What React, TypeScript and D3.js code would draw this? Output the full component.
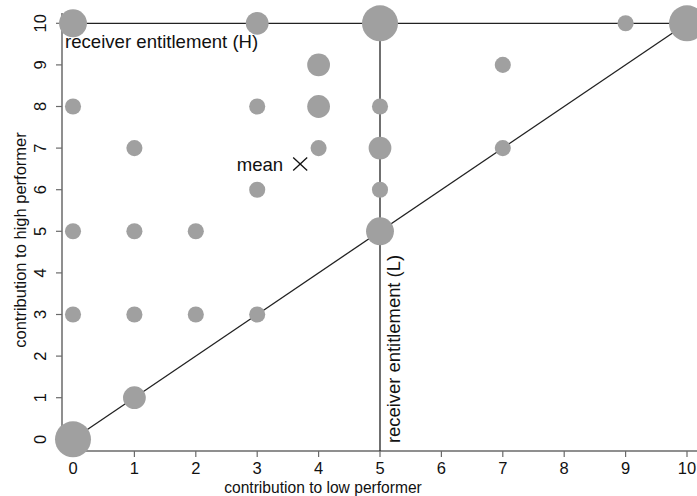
import React from 'react';
import * as d3 from 'd3';

// one entry per (low, high) contribution pair, count = number of observations
const lowContrib = [0, 3, 5, 9, 10, 4, 7, 0, 3, 4, 5, 1, 4, 5, 7, 3, 5, 0, 1, 2, 5, 0, 1, 2, 3, 1, 0];
const highContrib = [10, 10, 10, 10, 10, 9, 9, 8, 8, 8, 8, 7, 7, 7, 7, 6, 6, 5, 5, 5, 5, 3, 3, 3, 3, 1, 0];
const counts = [3, 2, 5, 1, 5, 2, 1, 1, 1, 2, 1, 1, 1, 2, 1, 1, 1, 1, 1, 1, 3, 1, 1, 1, 1, 2, 5];

const meanPoint = [3.7, 6.62];
const tickValues = [0, 1, 2, 3, 4, 5, 6, 7, 8, 9, 10];

const entitlementH = 10;
const entitlementL = 5;

const width = 697;
const height = 496;
const font = 'Liberation Sans, Arial, Helvetica, sans-serif';

export default function App() {
  const x = d3.scaleLinear().domain([0, 10]).range([73, 687]);
  const y = d3.scaleLinear().domain([0, 10]).range([439.3, 23.3]);
  const r = d3.scaleSqrt().domain([0, 5]).range([0, 18]);

  const axisLeft = 62;
  const axisBottom = 451;
  const axisColor = '#6a6a6a';
  const lineColor = '#222';

  const mx = x(meanPoint[0]);
  const my = y(meanPoint[1]);

  return (
    <svg
      width={width}
      height={height}
      style={{ position: 'absolute', left: 0, top: 0, background: '#fff' }}
      fontFamily={font}
    >
      {/* axes */}
      <line x1={axisLeft} x2={axisLeft} y1={13} y2={axisBottom} stroke={axisColor} strokeWidth={1.5} />
      <line x1={axisLeft} x2={698} y1={axisBottom} y2={axisBottom} stroke={axisColor} strokeWidth={1.5} />
      {tickValues.map(t => (
        <g key={'x' + t}>
          <line x1={x(t)} x2={x(t)} y1={axisBottom} y2={axisBottom + 6} stroke={axisColor} strokeWidth={1.2} />
          <text x={x(t)} y={474} textAnchor="middle" fontSize={16.5} fill="#111">{t}</text>
        </g>
      ))}
      {tickValues.map(t => (
        <g key={'y' + t}>
          <line x1={axisLeft - 6} x2={axisLeft} y1={y(t)} y2={y(t)} stroke={axisColor} strokeWidth={1.2} />
          <text transform={`translate(46,${y(t)}) rotate(-90)`} textAnchor="middle" fontSize={16.5} fill="#111">{t}</text>
        </g>
      ))}
      <text x={323} y={493} textAnchor="middle" fontSize={15.6} fill="#111">
        contribution to low performer
      </text>
      <text transform={`translate(26,240) rotate(-90)`} textAnchor="middle" fontSize={16.5} fill="#111">
        contribution to high performer
      </text>

      {/* reference lines */}
      <line x1={axisLeft} x2={x(10)} y1={y(entitlementH)} y2={y(entitlementH)} stroke={lineColor} strokeWidth={1.3} />
      <line x1={x(entitlementL)} x2={x(entitlementL)} y1={axisBottom} y2={y(10)} stroke={lineColor} strokeWidth={1.3} />
      <line x1={x(0)} x2={x(10)} y1={y(0)} y2={y(10)} stroke={lineColor} strokeWidth={1.3} />

      {/* observations */}
      {lowContrib.map((v, i) => (
        <circle key={i} cx={x(v)} cy={y(highContrib[i])} r={r(counts[i])} fill="#a0a0a0" />
      ))}

      {/* labels */}
      <text x={65} y={48} fontSize={18.6} fill="#111">receiver entitlement (H)</text>
      <text transform={`translate(400,443) rotate(-90)`} fontSize={18.4} fill="#111">receiver entitlement (L)</text>
      <text x={mx - 17} y={my + 7} textAnchor="end" fontSize={18.6} fill="#111">mean</text>
      <line x1={mx - 7} x2={mx + 7} y1={my - 6.5} y2={my + 6.5} stroke="#111" strokeWidth={1.3} />
      <line x1={mx - 7} x2={mx + 7} y1={my + 6.5} y2={my - 6.5} stroke="#111" strokeWidth={1.3} />
    </svg>
  );
}
